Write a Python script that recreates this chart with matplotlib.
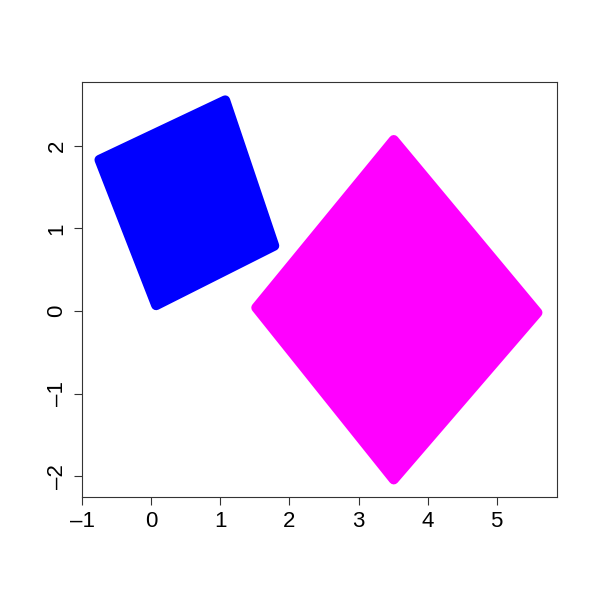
import matplotlib
matplotlib.use('Agg')
import matplotlib.pyplot as plt
from matplotlib.patches import Polygon

plt.rcParams['font.family'] = ['Liberation Sans', 'DejaVu Sans']

# outline (point centres) of the two point clouds
blue_x = [1.07, -0.75, 0.07, 1.78]
blue_y = [2.55, 1.83, 0.07, 0.79]
pink_x = [3.51, 1.52, 3.51, 5.59]
pink_y = [2.07, 0.04, -2.04, -0.02]

x_ticks = [-1, 0, 1, 2, 3, 4, 5]
y_ticks = [-2, -1, 0, 1, 2]

fig = plt.figure(figsize=(6, 6), dpi=100, facecolor='white')
ax = fig.add_axes([0.137, 0.172, 0.791, 0.691])

# point marker radius ~5px -> round-joined edge of 10px width
for xs, ys, col in [(blue_x, blue_y, '#0000FF'), (pink_x, pink_y, '#FF00FF')]:
    poly = Polygon(list(zip(xs, ys)), closed=True, facecolor=col, edgecolor=col,
                   linewidth=7.2, joinstyle='round')
    ax.add_patch(poly)

ax.set_xlim(-1.0, 5.87)
ax.set_ylim(-2.25, 2.77)
ax.set_xticks(x_ticks)
ax.set_yticks(y_ticks)
ax.set_xticklabels([str(v).replace('-', '\u2013') for v in x_ticks])
ax.set_yticklabels([str(v).replace('-', '\u2013') for v in y_ticks],
                   rotation=90, va='center')
ax.tick_params(labelsize=16, length=5.5, width=0.8, pad=5, color='#333333')
for s in ax.spines.values():
    s.set_linewidth(0.8)
    s.set_color('#333333')

fig.savefig('out.png', dpi=100)
